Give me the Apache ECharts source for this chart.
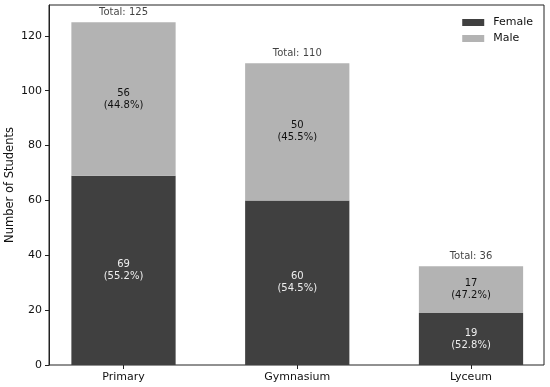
<!DOCTYPE html>
<html><head><meta charset="utf-8">
<script src="https://cdn.jsdelivr.net/npm/echarts@6/dist/echarts.min.js"></script>
<style>html,body{margin:0;padding:0;background:#fff}#c{width:550px;height:387px}</style>
</head><body><div id="c"></div>
<script>
const categories = ['Primary', 'Gymnasium', 'Lyceum'];
const female = [69, 60, 19];
const male = [56, 50, 17];
const yTicks = [0, 20, 40, 60, 80, 100, 120];

const totals = categories.map((c, i) => female[i] + male[i]);
const font = 'DejaVu Sans';
const chart = echarts.init(document.getElementById('c'));

function segLabel(vals) {
  return p => {
    const i = p.dataIndex;
    const pct = (vals[i] / totals[i] * 100).toFixed(1);
    return vals[i] + '\n(' + pct + '%)';
  };
}

const unit = 173.75;
const c0 = 123.5;
const bandLeft = c0 - unit / 2;

chart.setOption({
  animation: false,
  textStyle: { fontFamily: font },
  grid: [
    { left: 49, right: 6, top: 5, bottom: 22, show: true, borderColor: '#222', borderWidth: 1, backgroundColor: 'transparent', outerBoundsMode: 'none', containLabel: false },
    { left: bandLeft, width: unit * 3, top: 5, bottom: 22, outerBoundsMode: 'none', containLabel: false }
  ],
  legend: {
    data: ['Female', 'Male'],
    orient: 'vertical', right: 12, top: 12,
    itemWidth: 22, itemHeight: 7, itemGap: 5,
    textStyle: { fontFamily: font, fontSize: 11, color: '#111', padding: [0, 0, 0, 4] },
    icon: 'rect'
  },
  xAxis: [
    { gridIndex: 0, type: 'value', min: 0, max: 1, show: false },
    {
      gridIndex: 1, type: 'category', data: categories,
      axisLine: { show: false },
      axisTick: { show: true, alignWithLabel: true, length: 4, lineStyle: { color: '#222' } },
      axisLabel: { color: '#111', fontSize: 11, fontFamily: font, margin: 7 }
    }
  ],
  yAxis: [
    {
      gridIndex: 0, type: 'value', min: 0, max: 131.25,
      name: 'Number of Students', nameLocation: 'middle', nameGap: 33, nameMoveOverlap: false,
      nameTextStyle: { fontFamily: font, fontSize: 11.5, color: '#111' },
      splitLine: { show: false },
      axisLine: { show: true, onZero: false, lineStyle: { color: '#222' } },
      axisTick: { show: true, length: 4, customValues: yTicks, lineStyle: { color: '#222' } },
      axisLabel: { color: '#111', fontSize: 11, fontFamily: font, margin: 7, customValues: yTicks }
    },
    { gridIndex: 1, type: 'value', min: 0, max: 131.25, show: false }
  ],
  series: [
    {
      name: 'Female', type: 'bar', stack: 's', barWidth: '60%',
      xAxisIndex: 1, yAxisIndex: 1,
      itemStyle: { color: '#404040' },
      data: female,
      label: { show: true, position: 'inside', color: '#eeeeee', fontSize: 10, fontFamily: font, lineHeight: 12, formatter: segLabel(female) }
    },
    {
      name: 'Male', type: 'bar', stack: 's', barWidth: '60%',
      xAxisIndex: 1, yAxisIndex: 1,
      itemStyle: { color: '#b3b3b3' },
      data: male,
      label: { show: true, position: 'inside', color: '#111', fontSize: 10, fontFamily: font, lineHeight: 12, formatter: segLabel(male) }
    },
    {
      name: 'Total', type: 'scatter', symbolSize: 0,
      xAxisIndex: 1, yAxisIndex: 1,
      data: totals,
      label: { show: true, position: 'top', distance: 5, color: '#111', fontSize: 10, fontFamily: font, formatter: p => 'Total: ' + totals[p.dataIndex] },
      silent: true
    }
  ]
});
</script></body></html>
